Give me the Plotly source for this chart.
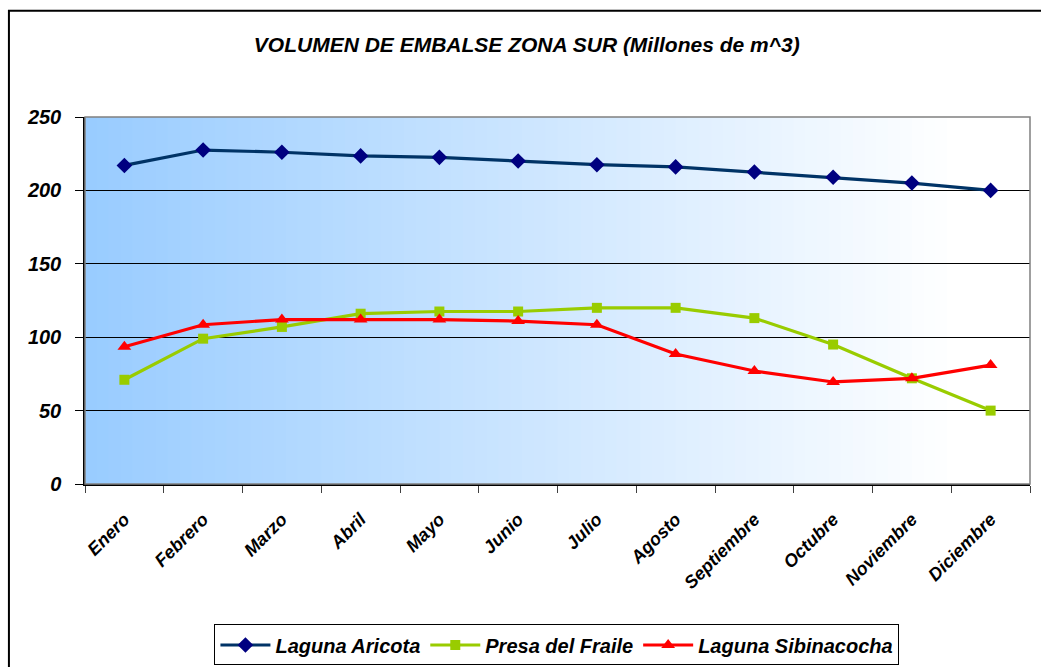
import plotly.graph_objects as go

MONTHS = ["Enero", "Febrero", "Marzo", "Abril", "Mayo", "Junio", "Julio",
          "Agosto", "Septiembre", "Octubre", "Noviembre", "Diciembre"]

ARICOTA = [217, 227.5, 226, 223.5, 222.5, 220, 217.5, 216, 212.5, 209, 205, 200]
FRAILE = [71, 99, 107, 116, 117.5, 117.5, 120, 120, 113, 95, 72, 50]
SIBINACOCHA = [93.5, 108.5, 112, 112, 112, 111, 108.5, 88.5, 77, 69.5, 72, 81]

SERIES = [
    ("Laguna Aricota", ARICOTA, "#003366", "#000080", "diamond", 12),
    ("Presa del Fraile", FRAILE, "#99CC00", "#99CC00", "square", 10),
    ("Laguna Sibinacocha", SIBINACOCHA, "#FF0000", "#FF0000", "triangle-up", 12),
]

FONT = "Liberation Sans, Arial, sans-serif"


def _gradient_shapes(steps: int = 80) -> list:
    start = (153, 204, 255)
    shapes = []
    for i in range(steps):
        t = i / (steps - 1)
        r, g, b = (round(c + (255 - c) * min(1.0, t * 1.08)) for c in start)
        shapes.append(
            {
                "type": "rect",
                "xref": "x domain",
                "yref": "y domain",
                "x0": i / steps,
                "x1": (i + 1) / steps + 0.002,
                "y0": 0,
                "y1": 1,
                "fillcolor": f"rgb({r},{g},{b})",
                "line": {"width": 0},
                "layer": "below",
            }
        )
    return shapes


fig = go.Figure()
for name, values, line_color, marker_color, symbol, size in SERIES:
    fig.add_trace(
        go.Scatter(
            x=MONTHS,
            y=values,
            mode="lines+markers",
            name=name,
            line={"color": line_color, "width": 3.2},
            marker={"color": marker_color, "symbol": symbol, "size": size},
        )
    )

shapes = _gradient_shapes()
# plot area border
shapes.append(
    {
        "type": "rect", "xref": "paper", "yref": "paper",
        "x0": 0, "x1": 1, "y0": 0, "y1": 1,
        "line": {"color": "#808080", "width": 1.5},
    }
)
# outer chart border
shapes.append(
    {
        "type": "rect", "xref": "paper", "yref": "paper",
        "x0": -0.0805, "x1": 1.05, "y0": -0.55, "y1": 1.2895,
        "line": {"color": "#000000", "width": 2},
    }
)

fig.update_layout(
    width=1041,
    height=667,
    margin={"l": 85, "r": 11, "t": 117, "b": 183, "autoexpand": False},
    paper_bgcolor="white",
    plot_bgcolor="white",
    font={"family": FONT, "color": "black", "size": 16, "weight": "bold", "style": "italic"},
    title={
        "text": "VOLUMEN DE EMBALSE ZONA SUR (Millones de m^3)",
        "x": 0.506,
        "xanchor": "center",
        "y": 0.9325,
        "yanchor": "middle",
        "font": {"family": FONT, "size": 21, "weight": "bold", "style": "italic", "color": "black"},
    },
    legend={
        "orientation": "h",
        "xref": "container",
        "yref": "container",
        "x": 0.535,
        "xanchor": "center",
        "y": 0.033,
        "yanchor": "middle",
        "bordercolor": "black",
        "borderwidth": 1,
        "bgcolor": "white",
        "font": {"family": FONT, "size": 20, "weight": "bold", "style": "italic"},
        "itemwidth": 50,
    },
    shapes=shapes,
    showlegend=True,
)

fig.update_xaxes(
    type="category",
    range=[-0.5, len(MONTHS) - 0.5],
    tickson="boundaries",
    ticks="outside",
    ticklen=7,
    tickcolor="#404040",
    tickangle=-45,
    ticklabelstandoff=16,
    showgrid=False,
    showline=True,
    linecolor="black",
    linewidth=1.5,
    automargin=False,
    tickfont={"family": FONT, "size": 18, "weight": "bold", "style": "italic"},
)
fig.update_yaxes(
    range=[0, 250],
    dtick=50,
    ticks="outside",
    ticklen=8,
    tickcolor="black",
    ticklabelstandoff=10,
    showgrid=True,
    gridcolor="black",
    gridwidth=1,
    zeroline=False,
    showline=True,
    linecolor="black",
    linewidth=1.5,
    automargin=False,
    tickfont={"family": FONT, "size": 20, "weight": "bold", "style": "italic"},
)

fig.write_html(
    "out.html",
    config={"displayModeBar": False},
    post_script="document.body.style.margin = '0';",
)
